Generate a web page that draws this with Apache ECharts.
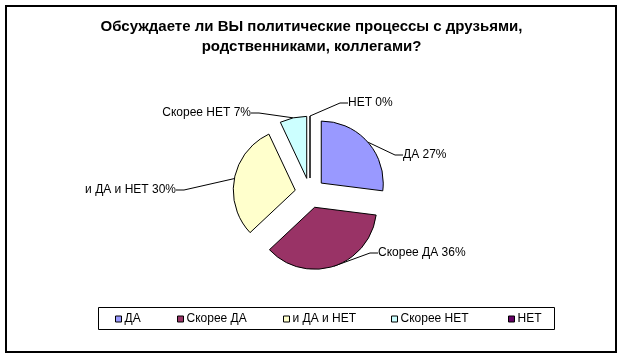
<!DOCTYPE html>
<html><head><meta charset="utf-8">
<script src="https://cdn.jsdelivr.net/npm/echarts@6/dist/echarts.min.js"></script>
<style>html,body{margin:0;padding:0;background:#fff}#c{width:623px;height:357px}</style>
</head><body><div id="c"></div>
<script>
const categories = ['ДА', 'Скорее ДА', 'и ДА и НЕТ', 'Скорее НЕТ', 'НЕТ'];
const values = [27, 36, 30, 7, 0];
const colors = ['#9999FF', '#993366', '#FFFFCC', '#CCFFFF', '#660066'];
const titleText = 'Обсуждаете ли ВЫ политические процессы с друзьями,\nродственниками, коллегами?';

// label anchor layout (screen positions of label text)
const labelPos = [
  {x: 403, y: 155, align: 'left'},
  {x: 378, y: 253, align: 'left'},
  {x: 176, y: 190, align: 'right'},
  {x: 251, y: 113, align: 'right'},
  {x: 348, y: 103, align: 'left'}
];
const legendX = [115, 177, 283, 391, 508];

const CX = 310, CY = 193, R = 62, EXPLODE = 15;
const total = values.reduce((a, b) => a + b, 0);
const font = '"Liberation Sans", Arial, sans-serif';
const hidden = {itemStyle: {color: 'rgba(0,0,0,0)', borderWidth: 0}, label: {show: false}, labelLine: {show: false}, emphasis: {disabled: true}};

let before = 0;
const series = categories.map((c, i) => {
  const v = values[i];
  const mid = (before + v / 2) / total * 2 * Math.PI;
  const center = [CX + EXPLODE * Math.sin(mid), CY - EXPLODE * Math.cos(mid)];
  const data = [
    Object.assign({name: '_a' + i, value: before}, hidden),
    {name: c, value: v, itemStyle: {color: colors[i], borderColor: '#000', borderWidth: 1}},
    Object.assign({name: '_b' + i, value: total - before - v}, hidden)
  ];
  before += v;
  return {
    type: 'pie', center: center, radius: R, startAngle: 90, clockwise: true,
    avoidLabelOverlap: false, stillShowZeroSum: true, silent: true,
    emphasis: {disabled: true},
    label: {show: true, position: 'outside', formatter: p => p.name + ' ' + values[i] + '%',
      fontFamily: font, fontSize: 12, color: '#000'},
    labelLine: {show: true, length: 8, length2: 8, lineStyle: {color: '#000', width: 1}},
    labelLayout: function (p) {
      const lp = labelPos[i];
      return {x: lp.x, y: lp.y, align: lp.align, verticalAlign: 'middle'};
    },
    data: data
  };
});

const chart = echarts.init(document.getElementById('c'), null, {renderer: 'canvas'});
const option = {
  backgroundColor: '#fff',
  animation: false,
  color: colors,
  title: {
    text: titleText, left: 'center', top: 17, padding: 0,
    textStyle: {fontFamily: font, fontSize: 15, fontWeight: 'bold', color: '#000', lineHeight: 20}
  },
  graphic: [
    {type: 'rect', shape: {x: 6, y: 6, width: 610, height: 346}, style: {fill: 'none', stroke: '#000', lineWidth: 2}, z: -1},
    {type: 'rect', shape: {x: 98.5, y: 307.5, width: 456, height: 22}, style: {fill: 'none', stroke: '#000', lineWidth: 1}, z: -1}
  ],
  legend: categories.map((c, i) => ({
    data: [{name: c, itemStyle: {color: colors[i], borderColor: '#000', borderWidth: 1}}],
    left: legendX[i], top: 313, padding: 0,
    itemWidth: 6, itemHeight: 6, itemGap: 4,
    textStyle: {fontFamily: font, fontSize: 12, color: '#000', padding: [0, 0, 0, -2]},
    selectedMode: false, icon: 'rect'
  })),
  series: series
};
chart.setOption(option);
</script></body></html>
